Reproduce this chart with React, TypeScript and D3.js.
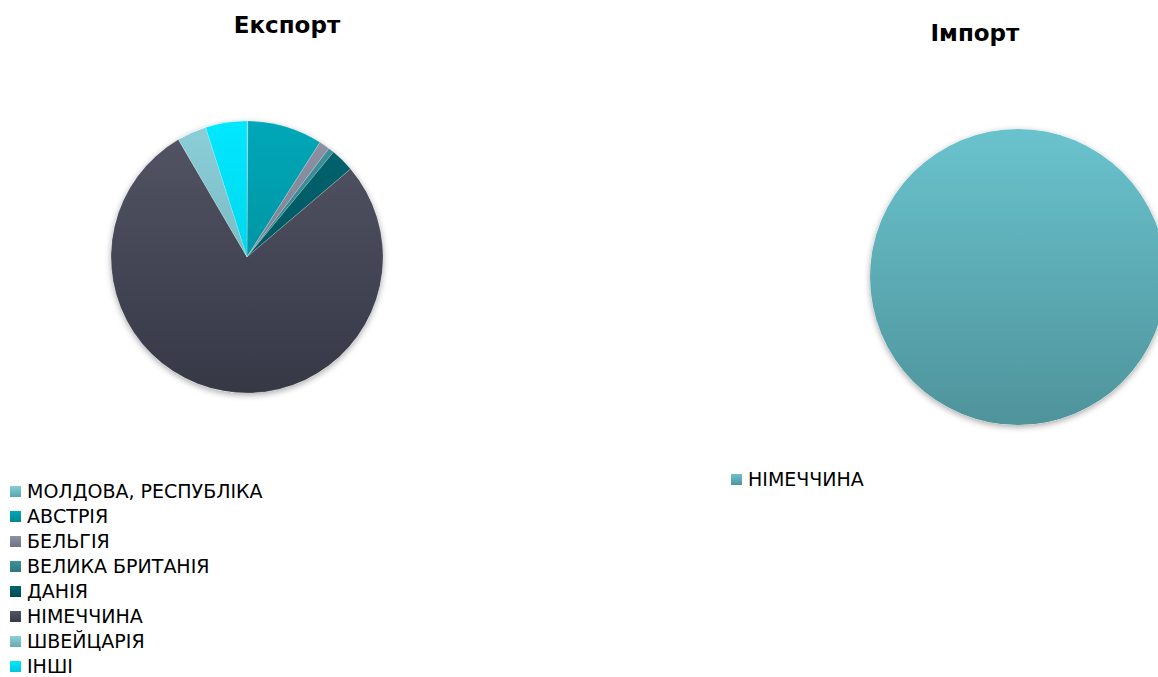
import { useEffect, useRef } from 'react'
import * as d3 from 'd3'

// Експорт, частки у %
const EXPORT_COUNTRIES = [
  'МОЛДОВА, РЕСПУБЛІКА', 'АВСТРІЯ', 'БЕЛЬГІЯ', 'ВЕЛИКА БРИТАНІЯ',
  'ДАНІЯ', 'НІМЕЧЧИНА', 'ШВЕЙЦАРІЯ', 'ІНШІ',
]
const EXPORT_VALUES = [0.1, 8.9, 1.25, 0.7, 2.8, 77.6, 3.5, 4.9]
const EXPORT_COLORS = [
  ['#86ced6', '#5aa6ae'],
  ['#00a7b8', '#00858f'],
  ['#8e92a4', '#6e7284'],
  ['#3f939b', '#2c767d'],
  ['#006570', '#004a52'],
  ['#535566', '#363846'],
  ['#8ccfd8', '#68a9b1'],
  ['#00e8ff', '#00c6dc'],
]

// Імпорт
const IMPORT_COUNTRIES = ['НІМЕЧЧИНА']
const IMPORT_VALUES = [100]
const IMPORT_COLORS = [['#69c3cd', '#4f939b']]

const W = 1158
const H = 677
const FONT = '"DejaVu Sans", Tahoma, sans-serif'

export default function App() {
  const ref = useRef<SVGSVGElement>(null)

  useEffect(() => {
    if (!ref.current) return
    const svg = d3.select(ref.current)
    svg.selectAll('*').remove()
    const defs = svg.append('defs')

    const shadow = defs.append('filter').attr('id', 'shadow')
      .attr('x', '-20%').attr('y', '-20%').attr('width', '140%').attr('height', '140%')
    shadow.append('feDropShadow').attr('dx', 0).attr('dy', 2).attr('stdDeviation', 3)
      .attr('flood-color', '#000').attr('flood-opacity', 0.35)

    const drawPie = (
      key: string, names: string[], values: number[], colors: string[][],
      cx: number, cy: number, r: number,
      title: string, tx: number, ty: number,
      lx: number, ly: number,
    ) => {
      // gradients: top lighter, bottom darker
      colors.forEach((c, i) => {
        const g = defs.append('linearGradient').attr('id', `${key}-g${i}`)
          .attr('gradientUnits', 'userSpaceOnUse')
          .attr('x1', 0).attr('x2', 0).attr('y1', -r).attr('y2', r)
        g.append('stop').attr('offset', 0).attr('stop-color', c[0])
        g.append('stop').attr('offset', 1).attr('stop-color', c[1])
        const s = defs.append('linearGradient').attr('id', `${key}-s${i}`)
          .attr('x1', 0).attr('x2', 0).attr('y1', 0).attr('y2', 1)
        s.append('stop').attr('offset', 0).attr('stop-color', c[0])
        s.append('stop').attr('offset', 1).attr('stop-color', c[1])
      })

      const pie = d3.pie<number>().sort(null).value(d => d)
      const arc = d3.arc<d3.PieArcDatum<number>>().innerRadius(0).outerRadius(r)
      const g = svg.append('g').attr('transform', `translate(${cx},${cy})`)
      g.append('circle').attr('r', r).attr('fill', '#fff').attr('filter', 'url(#shadow)')
      g.selectAll('path').data(pie(values)).join('path')
        .attr('d', arc)
        .attr('fill', (_, i) => `url(#${key}-g${i})`)
        .attr('stroke', values.length > 1 ? 'rgba(255,255,255,0.35)' : 'none')
        .attr('stroke-width', 0.5)

      svg.append('text').attr('x', tx).attr('y', ty).attr('text-anchor', 'middle')
        .attr('font-family', FONT).attr('font-weight', 'bold').attr('font-size', 23)
        .attr('fill', '#000').text(title)

      const leg = svg.append('g').attr('transform', `translate(${lx},${ly})`)
      names.forEach((n, i) => {
        const row = leg.append('g').attr('transform', `translate(0,${i * 25})`)
        row.append('rect').attr('x', 0).attr('y', -5).attr('width', 11).attr('height', 11)
          .attr('fill', `url(#${key}-s${i})`)
        row.append('text').attr('x', 17).attr('y', 0).attr('dy', '0.36em')
          .attr('font-family', FONT).attr('font-size', 19).attr('fill', '#000').text(n)
      })
    }

    drawPie('ex', EXPORT_COUNTRIES, EXPORT_VALUES, EXPORT_COLORS,
      247, 257, 136, 'Експорт', 287, 33, 10, 491)
    drawPie('im', IMPORT_COUNTRIES, IMPORT_VALUES, IMPORT_COLORS,
      1018, 277, 148, 'Імпорт', 975, 41, 731, 479)
  }, [])

  return (
    <svg ref={ref} width={W} height={H}
      style={{ position: 'absolute', left: 0, top: 0, background: '#fff' }} />
  )
}
